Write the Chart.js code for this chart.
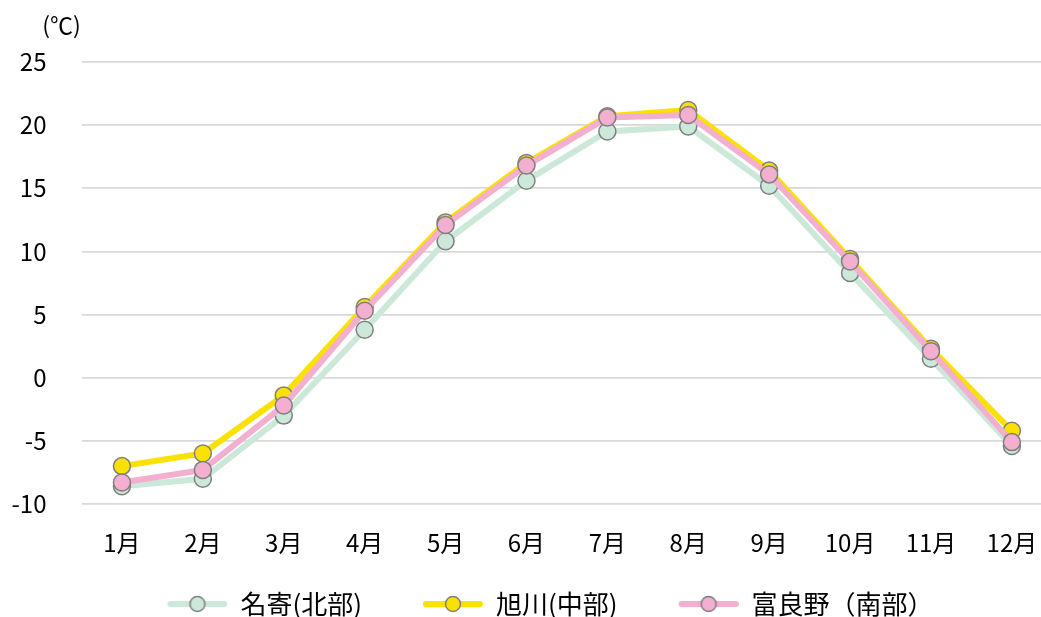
<!DOCTYPE html>
<html lang="ja">
<head>
<meta charset="utf-8">
<title>月平均気温</title>
<script src="https://cdn.jsdelivr.net/npm/chart.js@4/dist/chart.umd.min.js"></script>
<style>
  html, body { margin: 0; padding: 0; background: #fff; overflow: hidden; }
  canvas { display: block; }
</style>
</head>
<body>
<canvas id="chart" width="1041" height="617"></canvas>
<script>
// 月ラベル
const months = ['1月', '2月', '3月', '4月', '5月', '6月', '7月', '8月', '9月', '10月', '11月', '12月'];

// 月平均気温（℃）
const nayoro    = [-8.6, -8.0, -3.0, 3.8, 10.8, 15.6, 19.5, 19.9, 15.2, 8.3, 1.5, -5.4];
const asahikawa = [-7.0, -6.0, -1.4, 5.6, 12.3, 17.0, 20.7, 21.2, 16.4, 9.4, 2.3, -4.2];
const furano    = [-8.3, -7.3, -2.2, 5.3, 12.1, 16.8, 20.6, 20.8, 16.1, 9.2, 2.1, -5.1];

// 系列名
const seriesNames = ['名寄(北部)', '旭川(中部)', '富良野（南部）'];

// Y軸目盛
const yTicks = [-10, -5, 0, 5, 10, 15, 20, 25];

const FONT = "'Noto Sans CJK JP', 'Noto Sans', sans-serif";
const MARKER_BORDER = '#7f7f7f';
const colors = ['#CCE8D9', '#FAE100', '#F3AFD0'];

// 凡例用アイコン（前余白＋線＋丸）
const LEGEND_GAP = 60;
const LEGEND_LINE = 60;
function legendIcon(color) {
  const c = document.createElement('canvas');
  c.width = LEGEND_GAP + LEGEND_LINE;
  c.height = 22;
  const g = c.getContext('2d');
  g.strokeStyle = color;
  g.lineWidth = 6;
  g.lineCap = 'round';
  g.beginPath();
  g.moveTo(LEGEND_GAP + 3, 11);
  g.lineTo(LEGEND_GAP + LEGEND_LINE - 3, 11);
  g.stroke();
  g.beginPath();
  g.arc(LEGEND_GAP + LEGEND_LINE / 2, 11, 7.5, 0, Math.PI * 2);
  g.fillStyle = color;
  g.fill();
  g.lineWidth = 1.5;
  g.strokeStyle = MARKER_BORDER;
  g.stroke();
  return c;
}

function toPoints(values) {
  return values.map((v, i) => ({ x: i + 1, y: v }));
}

function makeDataset(label, values, color, order) {
  return {
    label,
    data: toPoints(values),
    borderColor: color,
    backgroundColor: color,
    borderWidth: 6,
    tension: 0,
    pointRadius: 8.5,
    pointHoverRadius: 8.5,
    pointBackgroundColor: color,
    pointBorderColor: MARKER_BORDER,
    pointBorderWidth: 1.5,
    order
  };
}

// 単位ラベル
const unitLabel = {
  id: 'unitLabel',
  afterDraw(chart) {
    const ctx = chart.ctx;
    ctx.save();
    ctx.font = '23px ' + FONT;
    ctx.fillStyle = '#000';
    ctx.textAlign = 'center';
    ctx.textBaseline = 'middle';
    ctx.fillText('(℃)', chart.chartArea.left - 20, 25);
    ctx.restore();
  }
};

Chart.defaults.font.family = FONT;
Chart.defaults.color = '#000';

new Chart(document.getElementById('chart'), {
  type: 'line',
  data: {
    datasets: [
      makeDataset(seriesNames[0], nayoro, colors[0], 2),
      makeDataset(seriesNames[1], asahikawa, colors[1], 1),
      makeDataset(seriesNames[2], furano, colors[2], 0)
    ]
  },
  options: {
    responsive: false,
    animation: false,
    events: [],
    layout: {
      autoPadding: false,
      padding: { top: 62, right: 0, bottom: -10, left: 0 }
    },
    scales: {
      x: {
        type: 'linear',
        min: 0.5,
        max: 12.36,
        afterBuildTicks(scale) {
          scale.ticks = months.map((m, i) => ({ value: i + 1 }));
        },
        afterFit(scale) {
          scale.height = 86;
          scale.paddingLeft = 0;
          scale.paddingRight = 0;
        },
        grid: { display: false, drawTicks: false },
        border: { display: false },
        ticks: {
          autoSkip: false,
          maxRotation: 0,
          padding: 24,
          font: { size: 24 },
          color: '#000',
          callback: (v) => months[v - 1]
        }
      },
      y: {
        min: yTicks[0],
        max: yTicks[yTicks.length - 1],
        afterBuildTicks(scale) {
          scale.ticks = yTicks.map(v => ({ value: v }));
        },
        afterFit(scale) { scale.width = 81.5; },
        grid: { color: '#d9d9d9', lineWidth: 1.8, drawTicks: false },
        border: { display: false },
        ticks: {
          padding: 35,
          font: { size: 24 },
          color: '#000'
        }
      }
    },
    plugins: {
      tooltip: { enabled: false },
      legend: {
        position: 'bottom',
        labels: {
          usePointStyle: true,
          pointStyleWidth: LEGEND_GAP + LEGEND_LINE,
          padding: 1,
          color: '#000',
          font: { size: 26 },
          generateLabels(chart) {
            return chart.data.datasets.map((ds, i) => ({
              text: ds.label,
              datasetIndex: i,
              pointStyle: legendIcon(ds.borderColor),
              fillStyle: ds.backgroundColor,
              strokeStyle: ds.borderColor,
              lineWidth: 0,
              fontColor: '#000',
              hidden: !chart.isDatasetVisible(i)
            }));
          }
        }
      }
    }
  },
  plugins: [unitLabel]
});
</script>
</body>
</html>
